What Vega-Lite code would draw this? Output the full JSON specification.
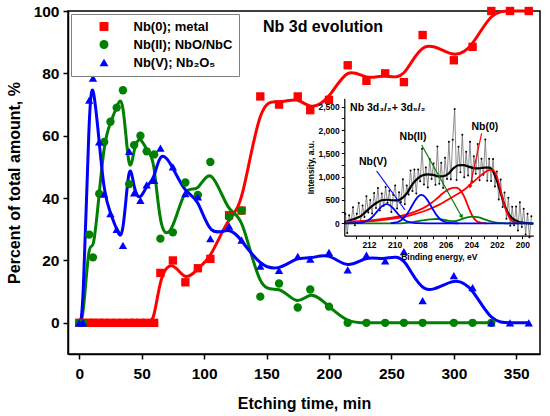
{
  "$schema": "https://vega.github.io/schema/vega-lite/v6.json",
  "width": 472,
  "height": 343,
  "autosize": {"type": "none"},
  "padding": {"left": 68, "top": 11, "right": 10, "bottom": 62},
  "background": "white",
  "config": {
    "font": "Liberation Sans",
    "view": {"stroke": "black", "strokeWidth": 1.5},
    "axis": {"labelFont": "Liberation Sans", "labelFontWeight": "bold", "titleFont": "Liberation Sans", "titleFontWeight": "bold", "labelColor": "black", "titleColor": "black", "domainColor": "black", "tickColor": "black", "grid": false, "labelOverlap": false, "labelFlush": false}
  },
  "datasets": {
    "main": [
      {"s": "Nb(0); metal", "t": 0, "v": 0}, {"s": "Nb(0); metal", "t": 3, "v": 0}, {"s": "Nb(0); metal", "t": 8, "v": 0}, {"s": "Nb(0); metal", "t": 11, "v": 0}, {"s": "Nb(0); metal", "t": 16, "v": 0}, {"s": "Nb(0); metal", "t": 20, "v": 0}, {"s": "Nb(0); metal", "t": 25, "v": 0}, {"s": "Nb(0); metal", "t": 30, "v": 0}, {"s": "Nb(0); metal", "t": 35, "v": 0}, {"s": "Nb(0); metal", "t": 40, "v": 0}, {"s": "Nb(0); metal", "t": 44, "v": 0}, {"s": "Nb(0); metal", "t": 49, "v": 0}, {"s": "Nb(0); metal", "t": 54, "v": 0}, {"s": "Nb(0); metal", "t": 60, "v": 0},
      {"s": "Nb(0); metal", "t": 65, "v": 16}, {"s": "Nb(0); metal", "t": 75, "v": 20}, {"s": "Nb(0); metal", "t": 85, "v": 13}, {"s": "Nb(0); metal", "t": 95, "v": 17.5}, {"s": "Nb(0); metal", "t": 105, "v": 20.5}, {"s": "Nb(0); metal", "t": 120, "v": 34.5}, {"s": "Nb(0); metal", "t": 130, "v": 36}, {"s": "Nb(0); metal", "t": 145, "v": 72.6}, {"s": "Nb(0); metal", "t": 160, "v": 70}, {"s": "Nb(0); metal", "t": 175, "v": 72.6}, {"s": "Nb(0); metal", "t": 185, "v": 68.2}, {"s": "Nb(0); metal", "t": 200, "v": 71.5}, {"s": "Nb(0); metal", "t": 215, "v": 82.6}, {"s": "Nb(0); metal", "t": 230, "v": 77.6}, {"s": "Nb(0); metal", "t": 245, "v": 80}, {"s": "Nb(0); metal", "t": 260, "v": 77.2}, {"s": "Nb(0); metal", "t": 275, "v": 92.3}, {"s": "Nb(0); metal", "t": 300, "v": 84.2}, {"s": "Nb(0); metal", "t": 315, "v": 88.5}, {"s": "Nb(0); metal", "t": 330, "v": 100}, {"s": "Nb(0); metal", "t": 345, "v": 100}, {"s": "Nb(0); metal", "t": 360, "v": 100},
      {"s": "Nb(II); NbO/NbC", "t": 0, "v": 0}, {"s": "Nb(II); NbO/NbC", "t": 3, "v": 0}, {"s": "Nb(II); NbO/NbC", "t": 8, "v": 28.3}, {"s": "Nb(II); NbO/NbC", "t": 11, "v": 21}, {"s": "Nb(II); NbO/NbC", "t": 16, "v": 41.4}, {"s": "Nb(II); NbO/NbC", "t": 20, "v": 58}, {"s": "Nb(II); NbO/NbC", "t": 25, "v": 64.5}, {"s": "Nb(II); NbO/NbC", "t": 30, "v": 69}, {"s": "Nb(II); NbO/NbC", "t": 35, "v": 74.6}, {"s": "Nb(II); NbO/NbC", "t": 40, "v": 44.5}, {"s": "Nb(II); NbO/NbC", "t": 44, "v": 57}, {"s": "Nb(II); NbO/NbC", "t": 49, "v": 60}, {"s": "Nb(II); NbO/NbC", "t": 54, "v": 55}, {"s": "Nb(II); NbO/NbC", "t": 60, "v": 54}, {"s": "Nb(II); NbO/NbC", "t": 65, "v": 27}, {"s": "Nb(II); NbO/NbC", "t": 75, "v": 29}, {"s": "Nb(II); NbO/NbC", "t": 85, "v": 45}, {"s": "Nb(II); NbO/NbC", "t": 95, "v": 41}, {"s": "Nb(II); NbO/NbC", "t": 105, "v": 51.6}, {"s": "Nb(II); NbO/NbC", "t": 120, "v": 34}, {"s": "Nb(II); NbO/NbC", "t": 130, "v": 36}, {"s": "Nb(II); NbO/NbC", "t": 145, "v": 8.4}, {"s": "Nb(II); NbO/NbC", "t": 160, "v": 12.6}, {"s": "Nb(II); NbO/NbC", "t": 175, "v": 4.9}, {"s": "Nb(II); NbO/NbC", "t": 185, "v": 10.7}, {"s": "Nb(II); NbO/NbC", "t": 200, "v": 5.2}, {"s": "Nb(II); NbO/NbC", "t": 215, "v": 0}, {"s": "Nb(II); NbO/NbC", "t": 230, "v": 0}, {"s": "Nb(II); NbO/NbC", "t": 245, "v": 0}, {"s": "Nb(II); NbO/NbC", "t": 260, "v": 0}, {"s": "Nb(II); NbO/NbC", "t": 275, "v": 0}, {"s": "Nb(II); NbO/NbC", "t": 300, "v": 0}, {"s": "Nb(II); NbO/NbC", "t": 315, "v": 0}, {"s": "Nb(II); NbO/NbC", "t": 330, "v": 0},
      {"s": "Nb(V); Nb₂O₅", "t": 0, "v": 0}, {"s": "Nb(V); Nb₂O₅", "t": 3, "v": 0}, {"s": "Nb(V); Nb₂O₅", "t": 8, "v": 71.4}, {"s": "Nb(V); Nb₂O₅", "t": 11, "v": 78.5}, {"s": "Nb(V); Nb₂O₅", "t": 16, "v": 58}, {"s": "Nb(V); Nb₂O₅", "t": 20, "v": 41.3}, {"s": "Nb(V); Nb₂O₅", "t": 25, "v": 35}, {"s": "Nb(V); Nb₂O₅", "t": 30, "v": 30}, {"s": "Nb(V); Nb₂O₅", "t": 35, "v": 24.8}, {"s": "Nb(V); Nb₂O₅", "t": 40, "v": 55}, {"s": "Nb(V); Nb₂O₅", "t": 44, "v": 41.7}, {"s": "Nb(V); Nb₂O₅", "t": 49, "v": 39.3}, {"s": "Nb(V); Nb₂O₅", "t": 54, "v": 44.2}, {"s": "Nb(V); Nb₂O₅", "t": 60, "v": 45.7}, {"s": "Nb(V); Nb₂O₅", "t": 65, "v": 56}, {"s": "Nb(V); Nb₂O₅", "t": 75, "v": 50}, {"s": "Nb(V); Nb₂O₅", "t": 85, "v": 41.4}, {"s": "Nb(V); Nb₂O₅", "t": 95, "v": 40.4}, {"s": "Nb(V); Nb₂O₅", "t": 105, "v": 27}, {"s": "Nb(V); Nb₂O₅", "t": 120, "v": 31}, {"s": "Nb(V); Nb₂O₅", "t": 130, "v": 26.5}, {"s": "Nb(V); Nb₂O₅", "t": 145, "v": 18.2}, {"s": "Nb(V); Nb₂O₅", "t": 160, "v": 16.8}, {"s": "Nb(V); Nb₂O₅", "t": 175, "v": 21.3}, {"s": "Nb(V); Nb₂O₅", "t": 185, "v": 20.4}, {"s": "Nb(V); Nb₂O₅", "t": 200, "v": 22.6}, {"s": "Nb(V); Nb₂O₅", "t": 215, "v": 17}, {"s": "Nb(V); Nb₂O₅", "t": 230, "v": 21.7}, {"s": "Nb(V); Nb₂O₅", "t": 245, "v": 19.9}, {"s": "Nb(V); Nb₂O₅", "t": 260, "v": 22.8}, {"s": "Nb(V); Nb₂O₅", "t": 275, "v": 7.1}, {"s": "Nb(V); Nb₂O₅", "t": 300, "v": 15.1}, {"s": "Nb(V); Nb₂O₅", "t": 315, "v": 11.3}, {"s": "Nb(V); Nb₂O₅", "t": 330, "v": 0}, {"s": "Nb(V); Nb₂O₅", "t": 345, "v": 0}, {"s": "Nb(V); Nb₂O₅", "t": 360, "v": 0}
    ],
    "noise": [
      {"be": 213.85, "I": 205}, {"be": 213.70, "I": -210}, {"be": 213.55, "I": 175}, {"be": 213.40, "I": 10}, {"be": 213.25, "I": 345}, {"be": 213.10, "I": -40}, {"be": 212.95, "I": 205}, {"be": 212.80, "I": 435}, {"be": 212.65, "I": 35}, {"be": 212.50, "I": 380}, {"be": 212.35, "I": 135}, {"be": 212.20, "I": 580}, {"be": 212.05, "I": 230}, {"be": 211.90, "I": 500}, {"be": 211.75, "I": 210}, {"be": 211.60, "I": 650}, {"be": 211.45, "I": 330}, {"be": 211.30, "I": 755}, {"be": 211.15, "I": 275}, {"be": 211.00, "I": 640}, {"be": 210.85, "I": 375}, {"be": 210.70, "I": 780}, {"be": 210.55, "I": 440}, {"be": 210.40, "I": 698}, {"be": 210.25, "I": 245}, {"be": 210.10, "I": 610}, {"be": 209.95, "I": 812}, {"be": 209.80, "I": 320}, {"be": 209.65, "I": 665}, {"be": 209.50, "I": 450}, {"be": 209.35, "I": 945}, {"be": 209.20, "I": 410}, {"be": 209.05, "I": 810}, {"be": 208.90, "I": 620}, {"be": 208.75, "I": 1135}, {"be": 208.60, "I": 695}, {"be": 208.45, "I": 1155}, {"be": 208.30, "I": 640}, {"be": 208.15, "I": 1155}, {"be": 208.00, "I": 900}, {"be": 207.85, "I": 1600}, {"be": 207.70, "I": 835}, {"be": 207.55, "I": 1195}, {"be": 207.40, "I": 768}, {"be": 207.25, "I": 1378}, {"be": 207.10, "I": 952}, {"be": 206.95, "I": 1285}, {"be": 206.80, "I": 825}, {"be": 206.65, "I": 1650}, {"be": 206.50, "I": 850}, {"be": 206.35, "I": 1300}, {"be": 206.20, "I": 760}, {"be": 206.05, "I": 1405}, {"be": 205.90, "I": 950}, {"be": 205.75, "I": 1750}, {"be": 205.60, "I": 945}, {"be": 205.45, "I": 1790}, {"be": 205.30, "I": 2455}, {"be": 205.15, "I": 930}, {"be": 205.00, "I": 1640}, {"be": 204.85, "I": 1095}, {"be": 204.70, "I": 1900}, {"be": 204.55, "I": 990}, {"be": 204.40, "I": 1535}, {"be": 204.25, "I": 1025}, {"be": 204.10, "I": 1750}, {"be": 203.95, "I": 900}, {"be": 203.80, "I": 1440}, {"be": 203.65, "I": 1062}, {"be": 203.50, "I": 1700}, {"be": 203.35, "I": 922}, {"be": 203.20, "I": 1386}, {"be": 203.05, "I": 1040}, {"be": 202.90, "I": 1800}, {"be": 202.75, "I": 915}, {"be": 202.60, "I": 1385}, {"be": 202.45, "I": 910}, {"be": 202.30, "I": 1380}, {"be": 202.15, "I": 790}, {"be": 202.00, "I": 1110}, {"be": 201.85, "I": 510}, {"be": 201.70, "I": 940}, {"be": 201.55, "I": 350}, {"be": 201.40, "I": 660}, {"be": 201.25, "I": 100}, {"be": 201.10, "I": 550}, {"be": 200.95, "I": -55}, {"be": 200.80, "I": 355}, {"be": 200.65, "I": -40}, {"be": 200.50, "I": 360}, {"be": 200.35, "I": -155}, {"be": 200.20, "I": 450}, {"be": 200.05, "I": -80}, {"be": 199.90, "I": 312}, {"be": 199.75, "I": -242}, {"be": 199.60, "I": 205}, {"be": 199.45, "I": -298}, {"be": 199.30, "I": 150}
    ],
    "fits": [
      {"c": "Total", "be": 213.9, "I": 25}, {"c": "Total", "be": 213.4, "I": 70}, {"c": "Total", "be": 212.9, "I": 120}, {"c": "Total", "be": 212.6, "I": 160}, {"c": "Total", "be": 212.2, "I": 260}, {"c": "Total", "be": 211.8, "I": 360}, {"c": "Total", "be": 211.4, "I": 440}, {"c": "Total", "be": 211.0, "I": 495}, {"c": "Total", "be": 210.6, "I": 505}, {"c": "Total", "be": 210.2, "I": 495}, {"c": "Total", "be": 209.8, "I": 490}, {"c": "Total", "be": 209.4, "I": 540}, {"c": "Total", "be": 209.0, "I": 660}, {"c": "Total", "be": 208.6, "I": 840}, {"c": "Total", "be": 208.2, "I": 960}, {"c": "Total", "be": 207.8, "I": 1030}, {"c": "Total", "be": 207.4, "I": 1050}, {"c": "Total", "be": 207.0, "I": 1040}, {"c": "Total", "be": 206.6, "I": 1005}, {"c": "Total", "be": 206.2, "I": 1010}, {"c": "Total", "be": 205.8, "I": 1060}, {"c": "Total", "be": 205.4, "I": 1180}, {"c": "Total", "be": 205.0, "I": 1245}, {"c": "Total", "be": 204.6, "I": 1250}, {"c": "Total", "be": 204.2, "I": 1215}, {"c": "Total", "be": 203.8, "I": 1185}, {"c": "Total", "be": 203.4, "I": 1180}, {"c": "Total", "be": 203.0, "I": 1195}, {"c": "Total", "be": 202.6, "I": 1195}, {"c": "Total", "be": 202.3, "I": 1120}, {"c": "Total", "be": 202.0, "I": 920}, {"c": "Total", "be": 201.7, "I": 650}, {"c": "Total", "be": 201.4, "I": 390}, {"c": "Total", "be": 201.1, "I": 210}, {"c": "Total", "be": 200.8, "I": 110}, {"c": "Total", "be": 200.4, "I": 45}, {"c": "Total", "be": 200.0, "I": 15}, {"c": "Total", "be": 199.5, "I": 0}, {"c": "Total", "be": 199.15, "I": -5},
      {"c": "Nb0a", "be": 213.9, "I": 30}, {"c": "Nb0a", "be": 212.5, "I": 50}, {"c": "Nb0a", "be": 211.5, "I": 75}, {"c": "Nb0a", "be": 210.5, "I": 110}, {"c": "Nb0a", "be": 209.5, "I": 160}, {"c": "Nb0a", "be": 208.5, "I": 240}, {"c": "Nb0a", "be": 207.8, "I": 320}, {"c": "Nb0a", "be": 207.2, "I": 420}, {"c": "Nb0a", "be": 206.7, "I": 530}, {"c": "Nb0a", "be": 206.2, "I": 650}, {"c": "Nb0a", "be": 205.7, "I": 740}, {"c": "Nb0a", "be": 205.2, "I": 765}, {"c": "Nb0a", "be": 204.8, "I": 690}, {"c": "Nb0a", "be": 204.5, "I": 540}, {"c": "Nb0a", "be": 204.2, "I": 330}, {"c": "Nb0a", "be": 203.9, "I": 150}, {"c": "Nb0a", "be": 203.6, "I": 50}, {"c": "Nb0a", "be": 203.2, "I": 10}, {"c": "Nb0a", "be": 202.8, "I": 0},
      {"c": "Nb0b", "be": 213.9, "I": 20}, {"c": "Nb0b", "be": 212.5, "I": 35}, {"c": "Nb0b", "be": 211.5, "I": 55}, {"c": "Nb0b", "be": 210.5, "I": 85}, {"c": "Nb0b", "be": 209.5, "I": 125}, {"c": "Nb0b", "be": 208.5, "I": 190}, {"c": "Nb0b", "be": 207.5, "I": 280}, {"c": "Nb0b", "be": 206.5, "I": 400}, {"c": "Nb0b", "be": 205.5, "I": 560}, {"c": "Nb0b", "be": 205.0, "I": 640}, {"c": "Nb0b", "be": 204.5, "I": 730}, {"c": "Nb0b", "be": 204.0, "I": 850}, {"c": "Nb0b", "be": 203.5, "I": 970}, {"c": "Nb0b", "be": 203.0, "I": 1080}, {"c": "Nb0b", "be": 202.6, "I": 1140}, {"c": "Nb0b", "be": 202.3, "I": 1135}, {"c": "Nb0b", "be": 202.0, "I": 1000}, {"c": "Nb0b", "be": 201.7, "I": 700}, {"c": "Nb0b", "be": 201.4, "I": 380}, {"c": "Nb0b", "be": 201.1, "I": 160}, {"c": "Nb0b", "be": 200.8, "I": 50}, {"c": "Nb0b", "be": 200.4, "I": 10}, {"c": "Nb0b", "be": 200.0, "I": 0},
      {"c": "NbII", "be": 213.9, "I": 0}, {"c": "NbII", "be": 209.5, "I": 0}, {"c": "NbII", "be": 209.0, "I": 10}, {"c": "NbII", "be": 208.4, "I": 35}, {"c": "NbII", "be": 207.8, "I": 62}, {"c": "NbII", "be": 207.2, "I": 85}, {"c": "NbII", "be": 206.7, "I": 92}, {"c": "NbII", "be": 206.2, "I": 80}, {"c": "NbII", "be": 205.7, "I": 50}, {"c": "NbII", "be": 205.3, "I": 45}, {"c": "NbII", "be": 204.9, "I": 75}, {"c": "NbII", "be": 204.4, "I": 120}, {"c": "NbII", "be": 203.9, "I": 142}, {"c": "NbII", "be": 203.4, "I": 125}, {"c": "NbII", "be": 202.9, "I": 80}, {"c": "NbII", "be": 202.4, "I": 35}, {"c": "NbII", "be": 201.9, "I": 10}, {"c": "NbII", "be": 201.3, "I": 0}, {"c": "NbII", "be": 199.15, "I": 0},
      {"c": "NbVa", "be": 213.9, "I": 0}, {"c": "NbVa", "be": 213.03, "I": 2}, {"c": "NbVa", "be": 212.73, "I": 8}, {"c": "NbVa", "be": 212.43, "I": 23}, {"c": "NbVa", "be": 212.13, "I": 55}, {"c": "NbVa", "be": 211.83, "I": 114}, {"c": "NbVa", "be": 211.53, "I": 200}, {"c": "NbVa", "be": 211.23, "I": 298}, {"c": "NbVa", "be": 210.93, "I": 378}, {"c": "NbVa", "be": 210.63, "I": 410}, {"c": "NbVa", "be": 210.33, "I": 378}, {"c": "NbVa", "be": 210.03, "I": 298}, {"c": "NbVa", "be": 209.73, "I": 200}, {"c": "NbVa", "be": 209.43, "I": 114}, {"c": "NbVa", "be": 209.13, "I": 55}, {"c": "NbVa", "be": 208.83, "I": 23}, {"c": "NbVa", "be": 208.53, "I": 8}, {"c": "NbVa", "be": 208.23, "I": 2}, {"c": "NbVa", "be": 207.5, "I": 0}, {"c": "NbVa", "be": 199.15, "I": 0},
      {"c": "NbVb", "be": 210.3, "I": 4}, {"c": "NbVb", "be": 210.0, "I": 12}, {"c": "NbVb", "be": 209.7, "I": 34}, {"c": "NbVb", "be": 209.4, "I": 82}, {"c": "NbVb", "be": 209.1, "I": 170}, {"c": "NbVb", "be": 208.8, "I": 297}, {"c": "NbVb", "be": 208.5, "I": 443}, {"c": "NbVb", "be": 208.2, "I": 563}, {"c": "NbVb", "be": 207.9, "I": 610}, {"c": "NbVb", "be": 207.6, "I": 563}, {"c": "NbVb", "be": 207.3, "I": 443}, {"c": "NbVb", "be": 207.0, "I": 297}, {"c": "NbVb", "be": 206.7, "I": 170}, {"c": "NbVb", "be": 206.4, "I": 82}, {"c": "NbVb", "be": 206.1, "I": 34}, {"c": "NbVb", "be": 205.8, "I": 12}, {"c": "NbVb", "be": 205.5, "I": 4}, {"c": "NbVb", "be": 205.0, "I": 0}
    ],
    "arrows": [
      {"k": "V", "be": 211.40, "I": 1122, "be2": 209.18, "I2": 285},
      {"k": "II", "be": 207.88, "I": 1680, "be2": 204.75, "I2": 142},
      {"k": "0", "be": 203.19, "I": 1931, "be2": 204.1, "I2": 785}
    ],
    "notes": [
      {"label": "Nb(V)", "be": 211.69, "I": 1315},
      {"label": "Nb(II)", "be": 208.56, "I": 1852},
      {"label": "Nb(0)", "be": 202.94, "I": 2067}
    ]
  },
  "layer": [
    {
      "layer": [
        {
          "data": {"name": "main"},
          "mark": {"type": "line", "interpolate": "basis", "strokeWidth": 3},
          "encoding": {
            "x": {"field": "t", "type": "quantitative", "scale": {"domain": [-9, 369], "nice": false, "zero": false},
              "axis": {"title": "Etching time, min", "values": [0, 25, 50, 75, 100, 125, 150, 175, 200, 225, 250, 275, 300, 325, 350], "labelExpr": "datum.value % 50 === 0 ? datum.label : ''", "labelFontSize": 15.5, "titleFontSize": 16, "tickSize": 5, "tickWidth": 1.5, "domainWidth": 1.5, "labelPadding": 7, "titlePadding": 14}},
            "y": {"field": "v", "type": "quantitative", "scale": {"domain": [-10, 100], "nice": false, "zero": false},
              "axis": {"title": "Percent of total amount, %", "values": [0, 10, 20, 30, 40, 50, 60, 70, 80, 90, 100], "labelExpr": "datum.value % 20 === 0 ? datum.label : ''", "labelFontSize": 15.5, "titleFontSize": 16, "tickSize": 5, "tickWidth": 1.5, "domainWidth": 1.5, "labelPadding": 4, "titlePadding": 11}},
            "color": {"field": "s", "type": "nominal", "scale": {"domain": ["Nb(0); metal", "Nb(II); NbO/NbC", "Nb(V); Nb₂O₅"], "range": ["#ff0000", "#008000", "#0000ff"]},
              "legend": {"orient": "top-left", "offset": 3, "title": null, "padding": 6, "fillColor": "white", "strokeColor": "#808080", "labelFontSize": 13, "labelFont": "Liberation Sans", "labelFontWeight": "bold", "labelColor": "black", "symbolSize": 80, "symbolStrokeWidth": 0, "symbolOffset": 20.5, "labelOffset": 23, "rowPadding": 4}}
          }
        },
        {
          "data": {"name": "main"},
          "mark": {"type": "point", "filled": true, "opacity": 1, "size": 70},
          "encoding": {
            "x": {"field": "t", "type": "quantitative", "scale": {"domain": [-9, 369], "nice": false, "zero": false}},
            "y": {"field": "v", "type": "quantitative", "scale": {"domain": [-10, 100], "nice": false, "zero": false}},
            "color": {"field": "s", "type": "nominal"},
            "shape": {"field": "s", "type": "nominal", "scale": {"domain": ["Nb(0); metal", "Nb(II); NbO/NbC", "Nb(V); Nb₂O₅"], "range": ["square", "circle", "triangle-up"]}, "legend": null}
          }
        },
        {
          "data": {"values": [{}]},
          "mark": {"type": "text", "text": "Nb 3d evolution", "font": "Liberation Sans", "fontWeight": "bold", "fontSize": 16, "align": "center", "baseline": "middle", "color": "black"},
          "encoding": {"x": {"datum": 195.2, "type": "quantitative"}, "y": {"datum": 95, "type": "quantitative"}}
        }
      ]
    },
    {
      "encoding": {
        "x": {"field": "be", "type": "quantitative", "scale": {"domain": [199.15, 213.93], "range": [465.3, 276.3], "nice": false, "zero": false},
          "axis": {"title": "Binding energy, eV", "orient": "bottom", "offset": -118.3, "values": [200, 201, 202, 203, 204, 205, 206, 207, 208, 209, 210, 211, 212, 213], "labelExpr": "datum.value % 2 === 0 ? datum.label : ''", "labelFontSize": 8.5, "titleFontSize": 8.5, "tickSize": 3, "tickWidth": 1, "domainWidth": 1.2, "labelPadding": 2, "titlePadding": 3, "zindex": 1}},
        "y": {"field": "I", "type": "quantitative", "scale": {"domain": [-266, 2682], "range": [224.7, 87.3], "nice": false, "zero": false},
          "axis": {"title": "Intensity, a.u.", "orient": "left", "offset": -276.3, "values": [0, 250, 500, 750, 1000, 1250, 1500, 1750, 2000, 2250, 2500], "labelExpr": "datum.value % 500 === 0 ? datum.label : ''", "labelFontSize": 8.5, "titleFontSize": 8.5, "tickSize": 3, "tickWidth": 1, "domainWidth": 1.2, "labelPadding": 2, "titlePadding": 3, "zindex": 1}}
      },
      "layer": [
        {
          "data": {"values": [{}]},
          "mark": {"type": "rect", "fill": "white", "stroke": "black", "strokeWidth": 1.2},
          "encoding": {"x": {"datum": 213.93, "type": "quantitative"}, "x2": {"datum": 199.15}, "y": {"datum": -266, "type": "quantitative"}, "y2": {"datum": 2682}}
        },
        {"data": {"name": "noise"}, "mark": {"type": "line", "color": "#707070", "strokeWidth": 0.8}},
        {"data": {"name": "noise"}, "mark": {"type": "point", "filled": true, "color": "black", "size": 4, "opacity": 1}},
        {"data": {"name": "fits"}, "transform": [{"filter": "datum.c === 'Total'"}], "mark": {"type": "line", "interpolate": "monotone", "color": "black", "strokeWidth": 2.2}},
        {"data": {"name": "fits"}, "transform": [{"filter": "datum.c === 'Nb0a' || datum.c === 'Nb0b'"}], "mark": {"type": "line", "interpolate": "monotone", "color": "#ff0000", "strokeWidth": 1.8}, "encoding": {"detail": {"field": "c"}}},
        {"data": {"name": "fits"}, "transform": [{"filter": "datum.c === 'NbII'"}], "mark": {"type": "line", "interpolate": "monotone", "color": "#008000", "strokeWidth": 1.8}},
        {"data": {"name": "fits"}, "transform": [{"filter": "datum.c === 'NbVa' || datum.c === 'NbVb'"}], "mark": {"type": "line", "interpolate": "monotone", "color": "#0000ff", "strokeWidth": 1.8}, "encoding": {"detail": {"field": "c"}}},
        {"data": {"name": "arrows"}, "transform": [{"filter": "datum.k === 'V'"}], "mark": {"type": "rule", "color": "#0000ff", "strokeWidth": 1.2}, "encoding": {"x2": {"field": "be2"}, "y2": {"field": "I2"}}},
        {"data": {"name": "arrows"}, "transform": [{"filter": "datum.k === 'II'"}], "mark": {"type": "rule", "color": "#008000", "strokeWidth": 1.2}, "encoding": {"x2": {"field": "be2"}, "y2": {"field": "I2"}}},
        {"data": {"name": "arrows"}, "transform": [{"filter": "datum.k === '0'"}], "mark": {"type": "rule", "color": "#ff0000", "strokeWidth": 1.2}, "encoding": {"x2": {"field": "be2"}, "y2": {"field": "I2"}}},
        {"data": {"name": "arrows"}, "transform": [{"filter": "datum.k === 'II'"}], "mark": {"type": "point", "shape": "triangle-up", "filled": true, "opacity": 1, "color": "#008000", "size": 22, "angle": 151}, "encoding": {"x": {"field": "be2", "type": "quantitative"}, "y": {"field": "I2", "type": "quantitative"}}},
        {"data": {"name": "arrows"}, "transform": [{"filter": "datum.k === '0'"}], "mark": {"type": "point", "shape": "triangle-up", "filled": true, "opacity": 1, "color": "#ff0000", "size": 22, "angle": 192}, "encoding": {"x": {"field": "be2", "type": "quantitative"}, "y": {"field": "I2", "type": "quantitative"}}},
        {"data": {"name": "notes"}, "mark": {"type": "text", "font": "Liberation Sans", "fontWeight": "bold", "fontSize": 10.5, "align": "center", "baseline": "middle", "color": "black"}, "encoding": {"text": {"field": "label"}}},
        {"data": {"values": [{"label": "Nb 3d₃/₂+ 3d₅/₂", "be": 213.48, "I": 2474}]}, "mark": {"type": "text", "font": "Liberation Sans", "fontWeight": "bold", "fontSize": 10.5, "align": "left", "baseline": "middle", "color": "black"}, "encoding": {"text": {"field": "label"}}}
      ]
    }
  ],
  "resolve": {"scale": {"x": "independent", "y": "independent"}, "axis": {"x": "independent", "y": "independent"}}
}
